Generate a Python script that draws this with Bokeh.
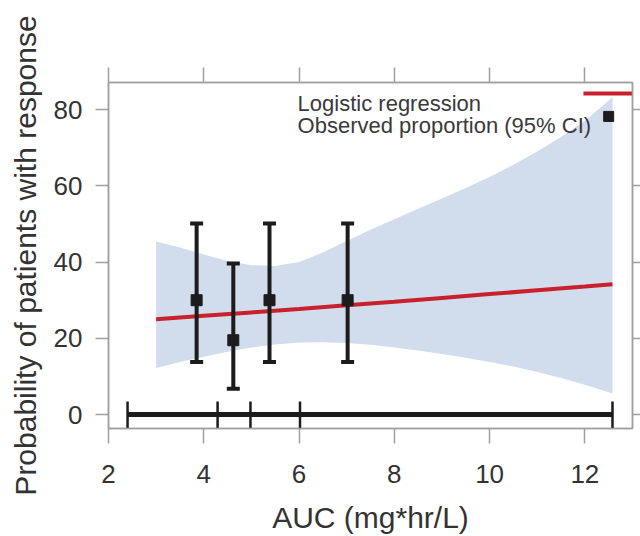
import numpy as np
from bokeh.plotting import figure
from bokeh.models import Range1d, LinearAxis, FixedTicker, Label
from bokeh.embed import file_html
from bokeh.resources import INLINE
from bokeh.core.properties import value

# ---------------- data ----------------
fit_auc = [3.0, 4.0, 5.0, 6.0, 7.0, 8.0, 9.0, 10.0, 11.0, 12.0, 12.58]
fit_prob = [25.0, 25.9, 26.8, 27.7, 28.7, 29.6, 30.6, 31.6, 32.6, 33.6, 34.2]

ci_auc = [3.0, 3.5, 4.0, 4.5, 5.0, 5.5, 6.0, 6.5, 7.0, 7.5, 8.0, 8.5, 9.0, 9.5,
          10.0, 10.5, 11.0, 11.5, 12.0, 12.58]
ci_upper = [45.4, 43.8, 42.0, 40.3, 39.2, 39.0, 40.0, 42.5, 45.5, 48.5, 51.2, 54.0,
            56.7, 59.4, 62.3, 65.5, 69.0, 72.8, 77.0, 83.2]
ci_lower = [12.2, 13.8, 15.2, 16.5, 17.6, 18.4, 18.9, 19.0, 18.8, 18.3, 17.6, 16.8,
            15.9, 14.9, 13.8, 12.6, 11.2, 9.6, 7.8, 5.5]

obs_auc = [3.85, 4.62, 5.38, 7.02]
obs_prop = [30.0, 19.5, 30.0, 30.0]
obs_lower = [13.8, 6.8, 13.8, 13.8]
obs_upper = [50.1, 39.6, 50.1, 50.1]

auc_quartiles = [2.4, 4.29, 4.98, 6.02, 12.58]

x_ticks = [2, 4, 6, 8, 10, 12]
y_ticks = [0, 20, 40, 60, 80]

legend_labels = ["Logistic regression", "Observed proportion (95% CI)"]

# ---------------- styling / layout ----------------
FONT = "Liberation Sans"
TXT = "#333333"
GRAY = "#a0a0a0"
RED = "#c9212b"
BAND = "#d1dcec"
DARK = "#1c1c1c"

p = figure(width=640, height=536, output_backend="svg", toolbar_location=None,
           x_range=Range1d(2, 13), y_range=Range1d(-3.65, 87.1),
           min_border_left=108, min_border_right=8, min_border_top=82,
           min_border_bottom=106,
           x_axis_location=None, y_axis_location=None)
p.grid.visible = False
p.background_fill_color = "white"
p.border_fill_color = "white"
p.outline_line_color = GRAY
p.outline_line_width = 1.5

def style_axis(ax, ticks, show_labels):
    ax.ticker = FixedTicker(ticks=ticks)
    ax.minor_tick_line_color = None
    ax.major_tick_in = 0
    ax.major_tick_line_color = GRAY
    ax.major_tick_line_width = 1.5
    ax.axis_line_color = GRAY
    ax.axis_line_width = 1.5
    ax.major_label_text_font = FONT
    ax.major_label_text_color = TXT
    ax.axis_label_text_font = FONT
    ax.axis_label_text_color = TXT
    ax.axis_label_text_font_style = "normal"
    if not show_labels:
        ax.major_label_text_font_size = "1px"
        ax.major_label_text_color = None
        ax.major_label_standoff = 0
    else:
        ax.major_label_text_font_size = "26px"

left = LinearAxis(axis_label="Probability of patients with response")
style_axis(left, y_ticks, True)
left.major_tick_out = 13
left.major_label_standoff = 13
left.axis_label_text_font_size = "30px"
left.axis_label_standoff = 9
p.add_layout(left, "left")

bottom = LinearAxis(axis_label="AUC (mg*hr/L)")
style_axis(bottom, x_ticks, True)
bottom.major_tick_out = 15
bottom.major_label_standoff = 21
bottom.axis_label_text_font_size = "30px"
bottom.axis_label_standoff = 15
p.add_layout(bottom, "below")

top = LinearAxis()
style_axis(top, x_ticks, False)
top.major_tick_out = 15
p.add_layout(top, "above")

right = LinearAxis()
style_axis(right, y_ticks, False)
right.major_tick_out = 8
p.add_layout(right, "right")

# confidence band
p.varea(x=ci_auc, y1=ci_lower, y2=ci_upper, fill_color=BAND, fill_alpha=1.0)

# logistic fit
p.line(fit_auc, fit_prob, line_color=RED, line_width=4)

# AUC distribution bar at y = 0
p.segment(x0=[min(auc_quartiles)], y0=[0], x1=[max(auc_quartiles)], y1=[0],
          line_color=DARK, line_width=5)
p.segment(x0=auc_quartiles, y0=[3.4] * len(auc_quartiles),
          x1=auc_quartiles, y1=[-3.65] * len(auc_quartiles),
          line_color=DARK, line_width=2.5)

# observed proportions with CI
p.segment(x0=obs_auc, y0=obs_lower, x1=obs_auc, y1=obs_upper,
          line_color=DARK, line_width=4)
p.scatter(obs_auc + obs_auc, obs_lower + obs_upper, marker="dash", size=13,
          line_color=DARK, line_width=4)
p.scatter(obs_auc, obs_prop, marker="square", size=11, fill_color=DARK,
          line_color=DARK)

# legend (text at left, keys at right, as in the reference)
LEG_X = 5.97
LEG_Y = [81.6, 75.9]
for txt, yy in zip(legend_labels, LEG_Y):
    p.add_layout(Label(x=LEG_X, y=yy, text=txt, text_font=FONT,
                       text_font_size="22px", text_color="#3a3a3a",
                       text_baseline="alphabetic", text_align="left"))
p.segment(x0=[11.97], y0=[84.2], x1=[13.05], y1=[84.2], line_color=RED, line_width=4)
p.scatter([12.5], [78.2], marker="square", size=10, fill_color=DARK, line_color=DARK)

open("out.html", "w").write(file_html(p, INLINE))
